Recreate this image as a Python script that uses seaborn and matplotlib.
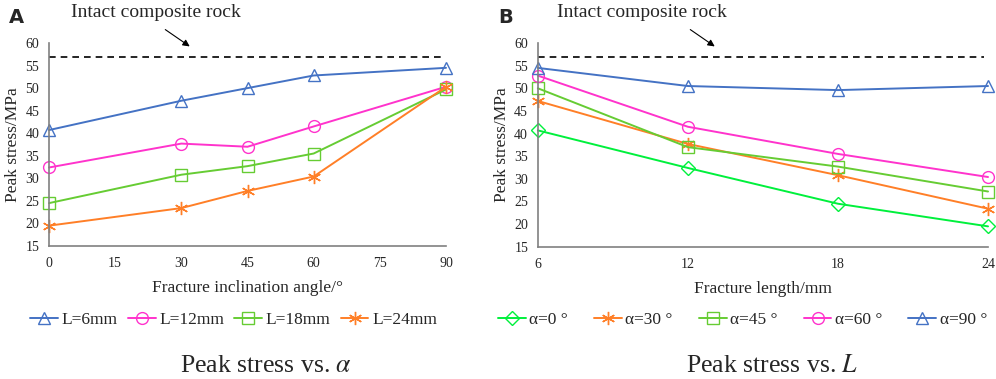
import matplotlib
matplotlib.use("Agg")
import matplotlib.pyplot as plt
import seaborn as sns
import pandas as pd

# ---- data ----
angles = [0, 30, 45, 60, 90]
lengths = [6, 12, 18, 24]
L6 = [40.7, 47.2, 50.0, 52.8, 54.5]
L12 = [32.4, 37.7, 37.0, 41.5, 50.3]
L18 = [24.5, 30.8, 32.7, 35.5, 49.7]
L24 = [19.5, 23.4, 27.2, 30.4, 50.3]
a0 = [40.7, 32.4, 24.5, 19.5]
a30 = [47.2, 37.7, 30.8, 23.4]
a45 = [50.0, 37.0, 32.7, 27.2]
a60 = [52.8, 41.5, 35.5, 30.4]
a90 = [54.5, 50.5, 49.6, 50.5]
intact = 57.0
yticks = [15, 20, 25, 30, 35, 40, 45, 50, 55, 60]
xticks_a = [0, 15, 30, 45, 60, 75, 90]
xticks_b = [6, 12, 18, 24]
labels_a = ['L=6mm', 'L=12mm', 'L=18mm', 'L=24mm']
labels_b = ['α=0 °', 'α=30 °', 'α=45 °', 'α=60 °', 'α=90 °']

sns.set_style("white")
plt.rcParams['font.family'] = ['Liberation Serif', 'DejaVu Serif']
plt.rcParams['mathtext.fontset'] = 'stix'

BLUE = '#4472C4'
MAG = '#FF33CC'
LGRN = '#66CC33'
ORG = '#FF7F27'
BGRN = '#00F03C'
GRAY = '#808080'

fig = plt.figure(figsize=(9.96, 3.79), dpi=100)
axA = fig.add_axes([0.0492, 0.351, 0.3986, 0.5355])
axB = fig.add_axes([0.540, 0.349, 0.452, 0.5375])

def series(ax, x, y, color, marker, label, ms=8.5):
    df = pd.DataFrame({'x': x, 'y': y})
    sns.lineplot(data=df, x='x', y='y', ax=ax, color=color, marker=marker,
                 markersize=ms, markerfacecolor='none', markeredgecolor=color,
                 markeredgewidth=1.0, linewidth=1.4, label=label, clip_on=False,
                 legend=False)

ast = (6, 2, 0)
series(axA, angles, L6, BLUE, '^', labels_a[0])
series(axA, angles, L12, MAG, 'o', labels_a[1])
series(axA, angles, L18, LGRN, 's', labels_a[2])
series(axA, angles, L24, ORG, ast, labels_a[3], ms=9.5)

series(axB, lengths, a0, BGRN, 'D', labels_b[0], ms=7)
series(axB, lengths, a30, ORG, ast, labels_b[1], ms=9.5)
series(axB, lengths, a45, LGRN, 's', labels_b[2])
series(axB, lengths, a60, MAG, 'o', labels_b[3])
series(axB, lengths, a90, BLUE, '^', labels_b[4])

for ax, xt, xl in [(axA, xticks_a, 'Fracture inclination angle/°'),
                   (axB, xticks_b, 'Fracture length/mm')]:
    ax.set_xlim(xt[0], xt[-1])
    ax.set_ylim(15, 60)
    ax.set_xticks(xt)
    ax.set_yticks(yticks)
    ax.tick_params(direction='in', length=4, width=1, color=GRAY, labelsize=10, pad=8)
    ax.tick_params(axis='y', pad=7)
    for s in ['top', 'right']:
        ax.spines[s].set_visible(False)
    for s in ['left', 'bottom']:
        ax.spines[s].set_color(GRAY)
        ax.spines[s].set_linewidth(1.2)
    ax.set_xlabel(xl, fontsize=12.5, labelpad=7)
    ax.set_ylabel('Peak stress/MPa', fontsize=12.5, labelpad=3)
    ax.plot([xt[0], xt[-1] - (xt[-1] - xt[0]) * 0.008], [intact, intact], ls=(0, (4, 3)),
            color='black', lw=1.2, clip_on=False)

# annotations
fig.text(0.0085, 0.955, 'A', fontsize=14, fontweight='bold', family='DejaVu Sans', va='center')
fig.text(0.5005, 0.955, 'B', fontsize=14, fontweight='bold', family='DejaVu Sans', va='center')
fig.text(0.157, 0.966, 'Intact composite rock', fontsize=14, ha='center', va='center')
fig.text(0.6445, 0.966, 'Intact composite rock', fontsize=14, ha='center', va='center')
fig.add_artist(matplotlib.patches.FancyArrowPatch((163/996, 1-28/379), (192/996, 1-48/379),
               transform=fig.transFigure, arrowstyle='-|>', mutation_scale=10, color='black', lw=0.8))
fig.add_artist(matplotlib.patches.FancyArrowPatch((688/996, 1-28/379), (717/996, 1-48/379),
               transform=fig.transFigure, arrowstyle='-|>', mutation_scale=10, color='black', lw=0.8))

hA, lA = axA.get_legend_handles_labels()
hB, lB = axB.get_legend_handles_labels()
fig.legend(hA, lA, loc='center', bbox_to_anchor=(0.2344, 0.155), ncol=4, frameon=False,
           fontsize=12.5, handlelength=1.6, columnspacing=0.6, handletextpad=0.2)
fig.legend(hB, lB, loc='center', bbox_to_anchor=(0.7455, 0.155), ncol=5, frameon=False,
           fontsize=12.5, handlelength=1.6, columnspacing=1.5, handletextpad=0.2)

fig.text(0.267, 0.034, r'Peak stress vs. $\alpha$', fontsize=18.5, ha='center', va='center')
fig.text(0.775, 0.034, r'Peak stress vs. $L$', fontsize=18.5, ha='center', va='center')

fig.savefig('out.png', dpi=100)
